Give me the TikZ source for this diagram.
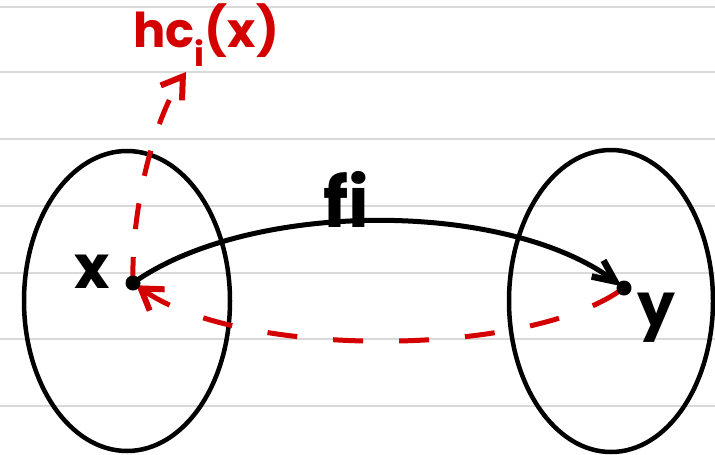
\documentclass[tikz,border=0pt]{standalone}
\usepackage{fontspec}
\setmainfont{Poppins}
\usetikzlibrary{arrows.meta,shapes.geometric}
\definecolor{rred}{HTML}{D40000}
\definecolor{rulegray}{HTML}{D9D9D9}
\tikzset{
  ruled/.style={rulegray, line width=1.5pt},
  setblob/.style={draw, ellipse, line width=4.5pt, inner sep=0pt},
  mapline/.style={line width=5pt, line cap=round, -{Straight Barb[length=22pt,width=20pt,line width=6.5pt]}},
  inverse/.style={rred, line width=5pt, dash pattern=on 30pt off 36pt, -{Straight Barb[length=20pt,width=26pt,line width=6pt]}},
  hand/.style={inner sep=0pt, font=\fontsize{#1}{#1}\selectfont\bfseries},
  dotpt/.style={circle, fill, inner sep=0pt, minimum size=15pt}
}
\begin{document}
\begin{tikzpicture}[x=1pt,y=-1pt]
\useasboundingbox (0,0) rectangle (715,455);
\fill[white] (0,0) rectangle (715,455);
\foreach \yy in {7,72,139,206,273,339,406} \draw[ruled] (0,\yy) -- (715,\yy);
\node[setblob, minimum width=206pt, minimum height=300pt] (X) at (127,301) {};
\node[setblob, minimum width=204pt, minimum height=302pt] (Y) at (611,301) {};
\coordinate (px) at (133,283);
\coordinate (py) at (624,288);
\coordinate (top) at (186,72);
% red up
\draw[inverse, dash pattern=on 26pt off 28pt] (px) .. controls (131,200) and (158,112) .. (top);
% black arc
\draw[mapline, shorten >=3pt] (px) .. controls (250,200) and (505,200) .. (py);
% red back
\draw[inverse, shorten <=6pt, shorten >=4pt] (py) .. controls (520,358) and (240,358) .. (px);
\node[dotpt] (dx) at (px) {};
\node[dotpt] (dy) at (py) {};
\node[hand=60pt] (xl) at (92,272) {x};
\node[hand=60pt] (yl) at (656,318) {y};
\node[hand=70pt] (fl) at (346,199) {f\kern0pt i};
\node[hand=48pt, rred] (hl) at (206,35) {hc\textsubscript{i}(x)};
\end{tikzpicture}
\end{document}
